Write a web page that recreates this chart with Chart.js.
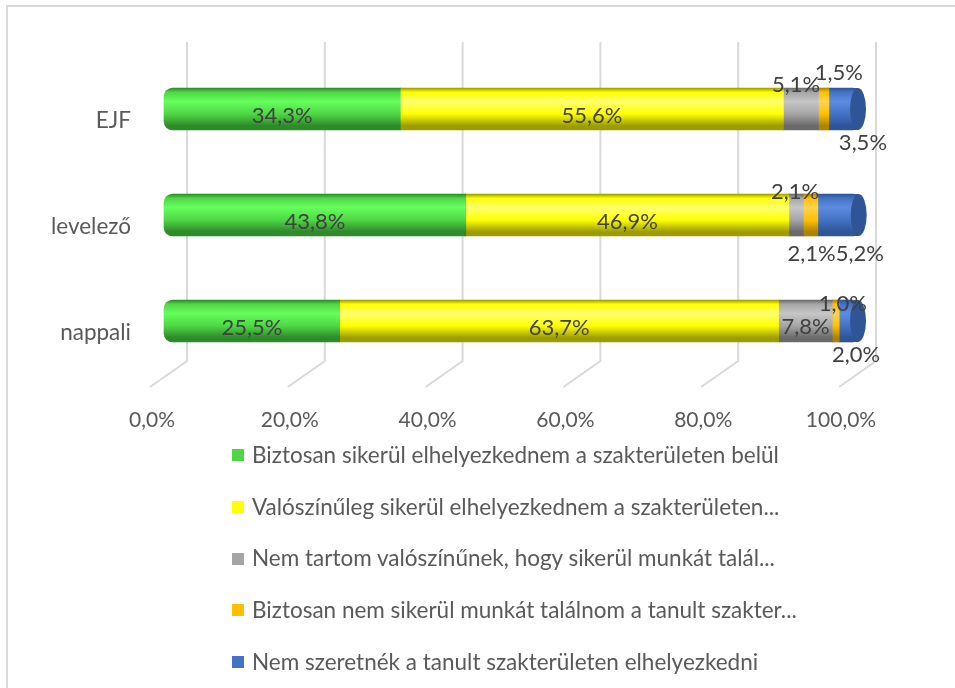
<!DOCTYPE html>
<html>
<head>
<meta charset="utf-8">
<script src="https://cdn.jsdelivr.net/npm/chart.js@4/dist/chart.umd.min.js"></script>
<style>
  html,body{margin:0;padding:0;background:#fff;width:955px;height:688px;overflow:hidden;}
  #wrap{position:relative;width:955px;height:688px;}
  #frame{position:absolute;left:6px;top:5px;width:960px;height:720px;border:2px solid #d9d9d9;box-sizing:border-box;}
  canvas{position:absolute;left:0;top:0;}
  #legend{position:absolute;left:232px;top:442px;font-family:Lato,"Open Sans",sans-serif;font-size:22.5px;color:#595959;}
  .li{position:absolute;left:0;white-space:nowrap;height:26px;line-height:26px;}
  .sw{display:inline-block;width:12px;height:12px;margin-right:8px;vertical-align:middle;position:relative;top:-2px;}
</style>
</head>
<body>
<div id="wrap">
  <div id="frame"></div>
  <canvas id="c" width="955" height="688"></canvas>
  <div id="legend"></div>
</div>
<script>
// ---- data ----
const categories = ['EJF', 'levelező', 'nappali'];
const seriesNames = [
  'Biztosan sikerül elhelyezkednem a szakterületen belül',
  'Valószínűleg sikerül elhelyezkednem a szakterületen...',
  'Nem tartom valószínűnek, hogy sikerül munkát talál...',
  'Biztosan nem sikerül munkát találnom a tanult szakter...',
  'Nem szeretnék a tanult szakterületen elhelyezkedni'
];
const biztosan     = [34.3, 43.8, 25.5];
const valoszinuleg = [55.6, 46.9, 63.7];
const nemTartom    = [5.1, 2.1, 7.8];
const biztosanNem  = [1.5, 2.1, 1.0];
const nemSzeretnek = [3.5, 5.2, 2.0];
const xTicks = [0, 20, 40, 60, 80, 100];

// ---- styles ----
const palette = [
  {base:'#4fd646', light:'#66ff5c', dark:'#2e8a2a'},
  {base:'#ffff00', light:'#ffff70', dark:'#9c9c00'},
  {base:'#a5a5a5', light:'#c6c6c6', dark:'#6a6a6a'},
  {base:'#ffc000', light:'#ffd44f', dark:'#ae8300'},
  {base:'#4472c4', light:'#5c8ce2', dark:'#2f5597'}
];
// label offsets (px) relative to segment centre: [dataset][category]
const labelShift = [
  [[0,7],[0,7],[0,7]],
  [[0,7],[0,7],[0,7]],
  [[-5,-24],[-1,-23],[0,6]],
  [[15,-36],[1,39],[7,-17]],
  [[22,34],[24,39],[10,34]]
];
const BAR_T = 42;
const fmt = v => v.toFixed(1).replace('.', ',') + '%';

function cyl(context, p) {
  const chart = context.chart;
  const ys = chart.scales && chart.scales.y;
  if (!chart.chartArea || !ys || context.dataIndex === undefined) return p.base;
  const cy = ys.getPixelForValue(context.dataIndex);
  const g = chart.ctx.createLinearGradient(0, cy - BAR_T/2, 0, cy + BAR_T/2);
  g.addColorStop(0, p.dark);
  g.addColorStop(0.1, p.base);
  g.addColorStop(0.32, p.light);
  g.addColorStop(0.62, p.base);
  g.addColorStop(0.9, p.dark);
  g.addColorStop(1, p.dark);
  return g;
}

const seriesValues = [biztosan, valoszinuleg, nemTartom, biztosanNem, nemSzeretnek];
const datasets = seriesValues.map((vals, i) => ({
  label: seriesNames[i],
  data: vals,
  backgroundColor: ctx => cyl(ctx, palette[i]),
  borderWidth: 0,
  borderSkipped: false,
  borderRadius: i === 0 ? {topLeft: 9, bottomLeft: 9, topRight: 0, bottomRight: 0} : 0,
  barThickness: BAR_T,
  clip: false
}));

const wallPlugin = {
  id: 'wall',
  beforeDatasetsDraw(chart) {
    const {ctx, chartArea, scales:{x}} = chart;
    ctx.save();
    ctx.strokeStyle = '#d9d9d9';
    ctx.lineWidth = 2;
    x.ticks.forEach(t => {
      const bx = x.getPixelForValue(t.value) + 23;
      ctx.beginPath();
      ctx.moveTo(bx, chartArea.top - 14);
      ctx.lineTo(bx, chartArea.bottom - 13);
      ctx.lineTo(bx - 37, chartArea.bottom + 13);
      ctx.stroke();
    });
    ctx.restore();
  }
};

const capPlugin = {
  id: 'cap',
  afterDatasetsDraw(chart) {
    const ctx = chart.ctx;
    const last = chart.data.datasets.length - 1;
    const meta = chart.getDatasetMeta(last);
    const p = palette[last];
    meta.data.forEach((el) => {
      const ex = el.x, cy = el.y, h = el.height;
      ctx.save();
      const g = ctx.createLinearGradient(0, cy - h/2, 0, cy + h/2);
      g.addColorStop(0, p.dark); g.addColorStop(0.1, p.base); g.addColorStop(0.32, p.light);
      g.addColorStop(0.62, p.base); g.addColorStop(0.9, p.dark); g.addColorStop(1, p.dark);
      ctx.fillStyle = g;
      ctx.fillRect(ex - 1, cy - h/2, 6, h);
      ctx.beginPath();
      ctx.ellipse(ex + 5, cy, 8, h/2, 0, 0, Math.PI*2);
      ctx.fillStyle = '#2f5597';
      ctx.fill();
      ctx.restore();
    });
  }
};

const labelPlugin = {
  id: 'vlabels',
  afterDraw(chart) {
    const ctx = chart.ctx;
    ctx.save();
    ctx.font = '22px Lato, "Open Sans", sans-serif';
    ctx.fillStyle = '#404040';
    ctx.textAlign = 'center';
    ctx.textBaseline = 'middle';
    chart.data.datasets.forEach((ds, i) => {
      const meta = chart.getDatasetMeta(i);
      meta.data.forEach((el, j) => {
        const cx = (el.x + el.base) / 2;
        const sh = labelShift[i][j];
        ctx.fillText(fmt(ds.data[j]), cx + sh[0], el.y + sh[1]);
      });
    });
    ctx.restore();
  }
};

const chart = new Chart(document.getElementById('c'), {
  type: 'bar',
  data: { labels: categories, datasets },
  options: {
    responsive: false,
    animation: false,
    indexAxis: 'y',
    layout: { padding: { left: 0, top: 56, right: 102, bottom: 254 } },
    plugins: { legend: { display: false }, tooltip: { enabled: false } },
    scales: {
      x: {
        stacked: true, min: 0, max: 100,
        afterBuildTicks: s => { s.ticks = xTicks.map(v => ({value: v})); },
        afterFit: s => { s.height = 60; },
        grid: { display: false, drawTicks: false },
        border: { display: false },
        ticks: {
          callback: v => fmt(v),
          labelOffset: -12, padding: 34,
          color: '#595959',
          font: { family: 'Lato, "Open Sans", sans-serif', size: 21 }
        }
      },
      y: {
        stacked: true,
        afterFit: s => { s.width = 164; },
        grid: { display: false, drawTicks: false },
        border: { display: false },
        ticks: {
          labelOffset: 12, padding: 33,
          color: '#595959',
          font: { family: 'Lato, "Open Sans", sans-serif', size: 22.5 }
        }
      }
    }
  },
  plugins: [wallPlugin, capPlugin, labelPlugin]
});

// legend (HTML) built from the chart's datasets
const lg = document.getElementById('legend');
chart.data.datasets.forEach((ds, i) => {
  const d = document.createElement('div');
  d.className = 'li';
  d.style.top = (i * 51.7) + 'px';
  const sw = document.createElement('span');
  sw.className = 'sw';
  sw.style.background = palette[i].base;
  d.appendChild(sw);
  d.appendChild(document.createTextNode(ds.label));
  lg.appendChild(d);
});
</script>
</body>
</html>
